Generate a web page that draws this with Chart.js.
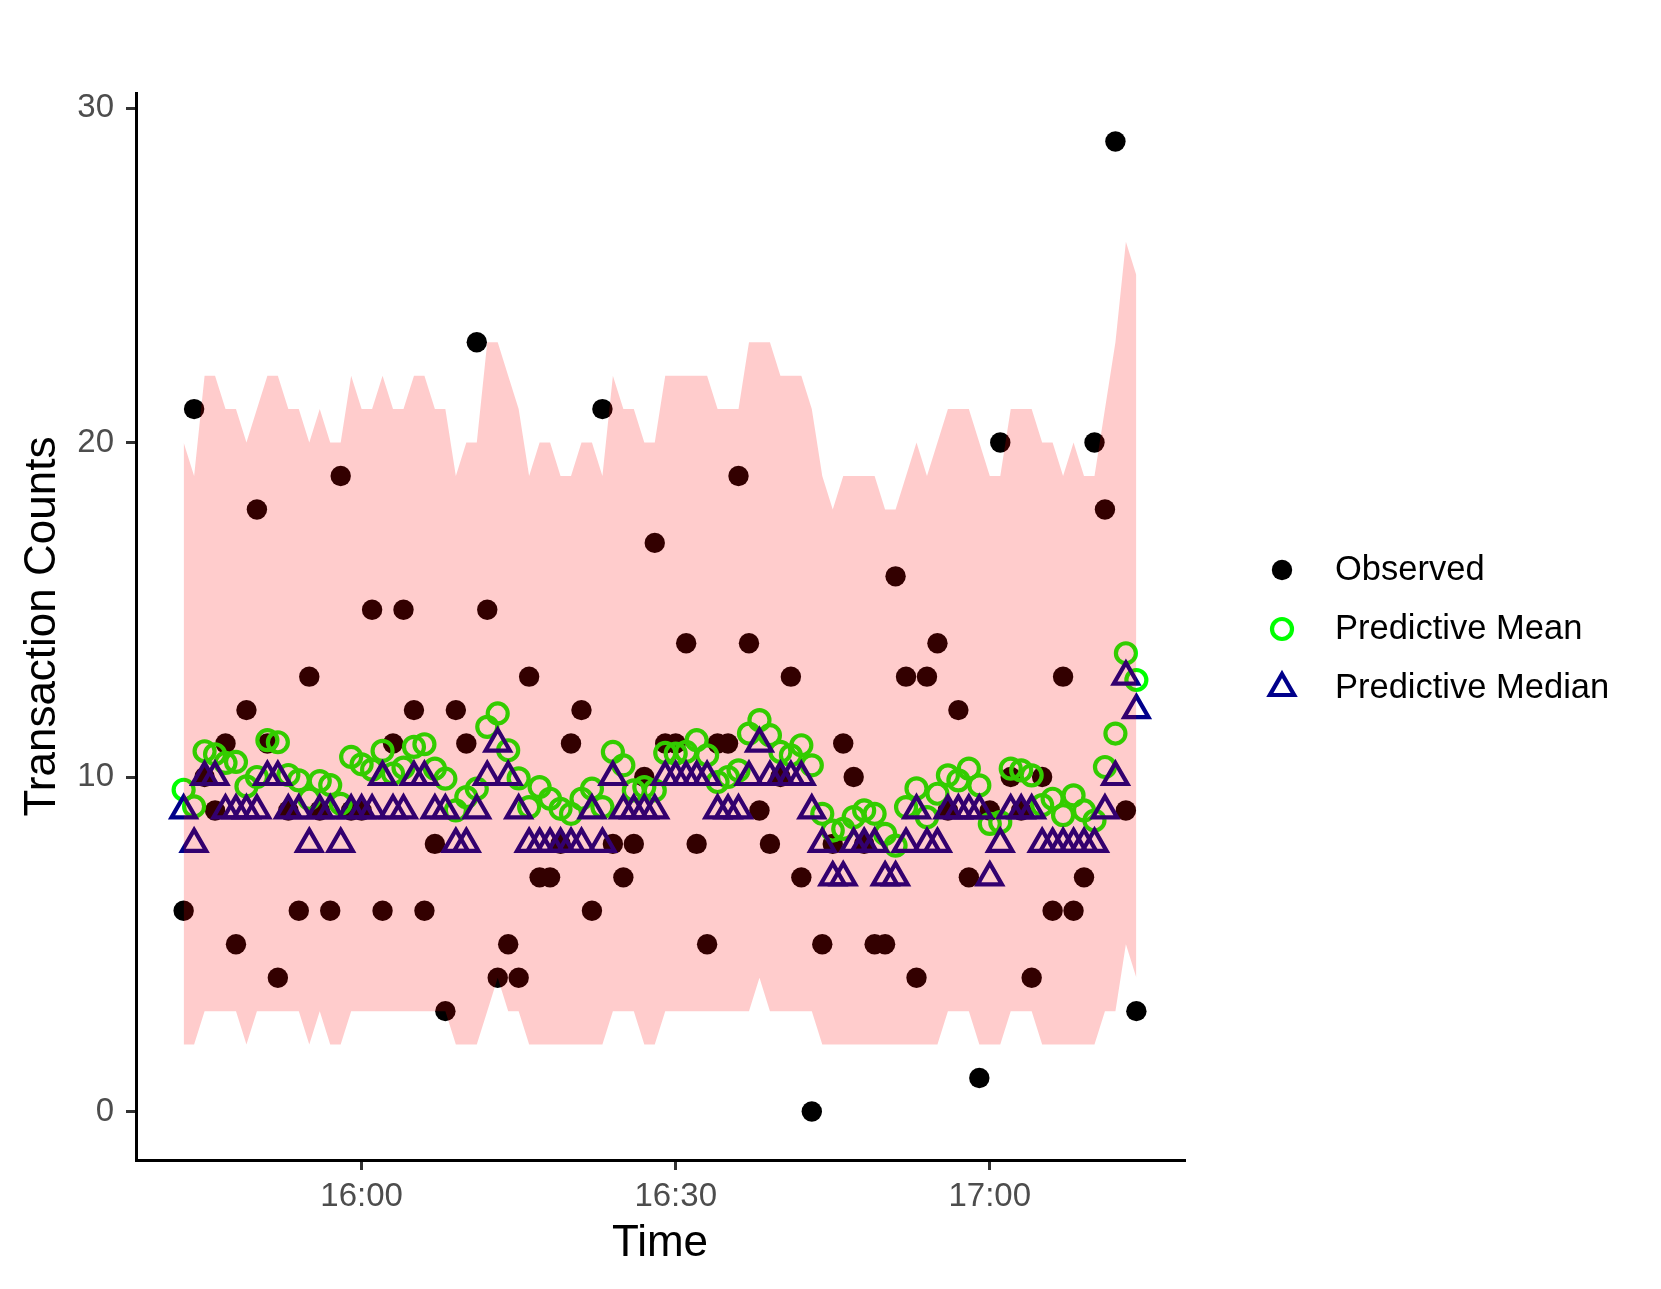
<!DOCTYPE html>
<html>
<head>
<meta charset="utf-8">
<script src="https://cdn.jsdelivr.net/npm/chart.js@4.4.1/dist/chart.umd.min.js"></script>
<style>
  html, body { margin: 0; padding: 0; background: #ffffff; }
  canvas { display: block; }
</style>
</head>
<body>
<canvas id="chart" width="1661" height="1289"></canvas>
<script>
// ---------------- data ----------------
const times = [
  "15:43","15:44","15:45","15:46","15:47","15:48","15:49","15:50","15:51","15:52",
  "15:53","15:54","15:55","15:56","15:57","15:58","15:59","16:00","16:01","16:02",
  "16:03","16:04","16:05","16:06","16:07","16:08","16:09","16:10","16:11","16:12",
  "16:13","16:14","16:15","16:16","16:17","16:18","16:19","16:20","16:21","16:22",
  "16:23","16:24","16:25","16:26","16:27","16:28","16:29","16:30","16:31","16:32",
  "16:33","16:34","16:35","16:36","16:37","16:38","16:39","16:40","16:41","16:42",
  "16:43","16:44","16:45","16:46","16:47","16:48","16:49","16:50","16:51","16:52",
  "16:53","16:54","16:55","16:56","16:57","16:58","16:59","17:00","17:01","17:02",
  "17:03","17:04","17:05","17:06","17:07","17:08","17:09","17:10","17:11","17:12",
  "17:13","17:14"
];

const observed = [
  6,21,10,9,11,5,12,18,11,4,
  9,6,13,9,6,19,9,9,15,6,
  11,15,12,6,8,3,12,11,23,15,
  4,5,4,13,7,7,8,11,12,6,
  21,8,7,8,10,17,11,11,14,8,
  5,11,11,19,14,9,8,10,13,7,
  0,5,8,11,10,8,5,5,16,13,
  4,13,14,9,12,7,1,9,20,10,
  9,4,10,6,13,6,7,20,18,29,
  9,3
];

const predMean = [
  9.62,9.12,10.77,10.68,10.42,10.45,9.72,10.0,11.1,11.04,
  10.06,9.9,9.35,9.88,9.76,9.2,10.6,10.38,10.22,10.78,
  10.1,10.28,10.9,10.98,10.25,9.95,9.0,9.4,9.65,11.5,
  11.9,10.8,9.96,9.1,9.7,9.35,9.05,8.9,9.35,9.65,
  9.1,10.75,10.35,9.6,9.7,9.6,10.72,10.7,10.75,11.1,
  10.65,9.85,10.0,10.2,11.3,11.7,11.25,10.75,10.65,10.95,
  10.35,8.9,8.4,8.45,8.8,9.0,8.9,8.3,7.95,9.1,
  9.66,8.8,9.5,10.05,9.9,10.25,9.75,8.6,8.65,10.25,
  10.2,10.05,9.16,9.35,8.86,9.45,9.0,8.7,10.3,11.3,
  13.7,12.9
];

const predMedian = [
  9,8,10,10,9,9,9,9,10,10,
  9,9,8,9,9,8,9,9,9,10,
  9,9,10,10,9,9,8,8,9,10,
  11,10,9,8,8,8,8,8,8,9,
  8,10,9,9,9,9,10,10,10,10,
  10,9,9,9,10,11,10,10,10,10,
  9,8,7,7,8,8,8,7,7,8,
  9,8,8,9,9,9,9,7,8,9,
  9,9,8,8,8,8,8,8,9,10,
  13,12
];

const lowerBound = [
  2,2,3,3,3,3,2,3,3,3,
  3,3,2,3,2,2,3,3,3,3,
  3,3,3,3,3,3,2,2,2,3,
  4,3,3,2,2,2,2,2,2,2,
  2,3,3,3,2,2,3,3,3,3,
  3,3,3,3,3,4,3,3,3,3,
  3,2,2,2,2,2,2,2,2,2,
  2,2,2,3,3,3,2,2,2,3,
  3,3,2,2,2,2,2,2,3,3,
  5,4
];

const upperBound = [
  20,19,22,22,21,21,20,21,22,22,
  21,21,20,21,20,20,22,21,21,22,
  21,21,22,22,21,21,19,20,20,23,
  23,22,21,19,20,20,19,19,20,20,
  19,22,21,21,20,20,22,22,22,22,
  22,21,21,21,23,23,23,22,22,22,
  21,19,18,19,19,19,19,18,18,19,
  20,19,20,21,21,21,20,19,19,21,
  21,21,20,20,19,20,19,19,21,23,
  26,25
];

const xTickLabels = ["16:00", "16:30", "17:00"];
const yTickValues = [0, 10, 20, 30];
const seriesLabels = ["Observed", "Predictive Mean", "Predictive Median"];

// ---------------- helpers ----------------
const toMin = t => { const p = t.split(":").map(Number); return p[0] * 60 + p[1] - 960; };
const pts = arr => arr.map((v, i) => ({ x: toMin(times[i]), y: v }));

// ggplot-style 5% expansion of the data range
const xs = times.map(toMin);
const xLo = Math.min(...xs), xHi = Math.max(...xs);
const xPad = (xHi - xLo) * 0.05;
const yLo = Math.min(...observed), yHi = Math.max(...observed);
const yPad = (yHi - yLo) * 0.05;

const FONT = "'Liberation Sans', Arial, Helvetica, sans-serif";
const COL_OBS = "#000000";
const COL_MEAN = "#00FF00";
const COL_MED = "#00008B";
const STROKE = 4.2;
const R_DOT = 10.2, R_CIRC = 10, R_TRI = 14;

// ---------------- legend plugin ----------------
const legendPlugin = {
  id: "ggLegend",
  afterDraw(chart) {
    const ctx = chart.ctx;
    const symX = 1282, textX = 1335;
    const rowsY = [570, 629, 688];
    const specs = [
      { style: "circle", r: R_DOT, fill: COL_OBS, stroke: null, bw: 0 },
      { style: "circle", r: R_CIRC, fill: null, stroke: COL_MEAN, bw: STROKE },
      { style: "triangle", r: R_TRI, fill: null, stroke: COL_MED, bw: STROKE }
    ];
    ctx.save();
    specs.forEach((s, k) => {
      const y = rowsY[k];
      ctx.beginPath();
      if (s.style === "circle") {
        ctx.arc(symX, y, s.r, 0, Math.PI * 2);
      } else {
        let rad = 0;
        ctx.moveTo(symX + Math.sin(rad) * s.r, y - Math.cos(rad) * s.r);
        rad += 2 * Math.PI / 3;
        ctx.lineTo(symX + Math.sin(rad) * s.r, y - Math.cos(rad) * s.r);
        rad += 2 * Math.PI / 3;
        ctx.lineTo(symX + Math.sin(rad) * s.r, y - Math.cos(rad) * s.r);
        ctx.closePath();
      }
      if (s.fill) { ctx.fillStyle = s.fill; ctx.fill(); }
      if (s.stroke) { ctx.strokeStyle = s.stroke; ctx.lineWidth = s.bw; ctx.stroke(); }
      ctx.fillStyle = "#000000";
      ctx.font = "34.5px " + FONT;
      ctx.textAlign = "left";
      ctx.textBaseline = "middle";
      ctx.fillText(seriesLabels[k], textX, y);
    });
    ctx.restore();
  }
};

// ---------------- chart ----------------
new Chart(document.getElementById("chart"), {
  type: "scatter",
  data: {
    datasets: [
      {
        label: "upper", type: "line", data: pts(upperBound),
        fill: "+1", backgroundColor: "rgba(255,0,0,0.2)",
        borderColor: "rgba(0,0,0,0)", borderWidth: 0, pointRadius: 0, tension: 0
      },
      {
        label: "lower", type: "line", data: pts(lowerBound),
        fill: false, borderColor: "rgba(0,0,0,0)", borderWidth: 0, pointRadius: 0, tension: 0
      },
      {
        label: seriesLabels[2], data: pts(predMedian),
        pointStyle: "triangle", pointRadius: R_TRI, pointBorderWidth: STROKE, borderWidth: STROKE,
        pointBorderColor: COL_MED, borderColor: COL_MED, pointBackgroundColor: "rgba(0,0,0,0)"
      },
      {
        label: seriesLabels[1], data: pts(predMean),
        pointStyle: "circle", pointRadius: R_CIRC, pointBorderWidth: STROKE, borderWidth: STROKE,
        pointBorderColor: COL_MEAN, borderColor: COL_MEAN, pointBackgroundColor: "rgba(0,0,0,0)"
      },
      {
        label: seriesLabels[0], data: pts(observed),
        pointStyle: "circle", pointRadius: R_DOT, pointBorderWidth: 0,
        pointBorderColor: COL_OBS, pointBackgroundColor: COL_OBS
      }
    ]
  },
  options: {
    responsive: false,
    animation: false,
    devicePixelRatio: 1,
    events: [],
    layout: { padding: { left: 0, top: 93, right: 477, bottom: 0 } },
    plugins: {
      legend: { display: false },
      tooltip: { enabled: false },
      filler: { propagate: false }
    },
    scales: {
      x: {
        type: "linear",
        min: xLo - xPad,
        max: xHi + xPad,
        afterBuildTicks: s => { s.ticks = xTickLabels.map(l => ({ value: toMin(l) })); },
        afterFit: s => { s.height = 129; },
        ticks: {
          callback: v => { const l = xTickLabels.find(t => toMin(t) === v); return l || ""; },
          font: { family: FONT, size: 33 },
          color: "#4D4D4D",
          padding: 7,
          maxRotation: 0,
          autoSkip: false
        },
        grid: { display: true, drawOnChartArea: false, drawTicks: true, tickLength: 10, color: "#333333", lineWidth: 3 },
        border: { display: true, color: "#000000", width: 3 },
        title: {
          display: true, text: "Time", color: "#000000",
          font: { family: FONT, size: 44 },
          padding: { top: 0, bottom: 19 }
        }
      },
      y: {
        type: "linear",
        min: yLo - yPad,
        max: yHi + yPad,
        afterBuildTicks: s => { s.ticks = yTickValues.map(v => ({ value: v })); },
        afterFit: s => { s.width = 136; },
        ticks: {
          font: { family: FONT, size: 33 },
          color: "#4D4D4D",
          padding: 12
        },
        grid: { display: true, drawOnChartArea: false, drawTicks: true, tickLength: 10, color: "#333333", lineWidth: 3 },
        border: { display: true, color: "#000000", width: 3 },
        title: {
          display: true, text: "Transaction Counts", color: "#000000",
          font: { family: FONT, size: 44 },
          padding: { top: 16, bottom: 0 }
        }
      }
    }
  },
  plugins: [legendPlugin]
});
</script>
</body>
</html>
